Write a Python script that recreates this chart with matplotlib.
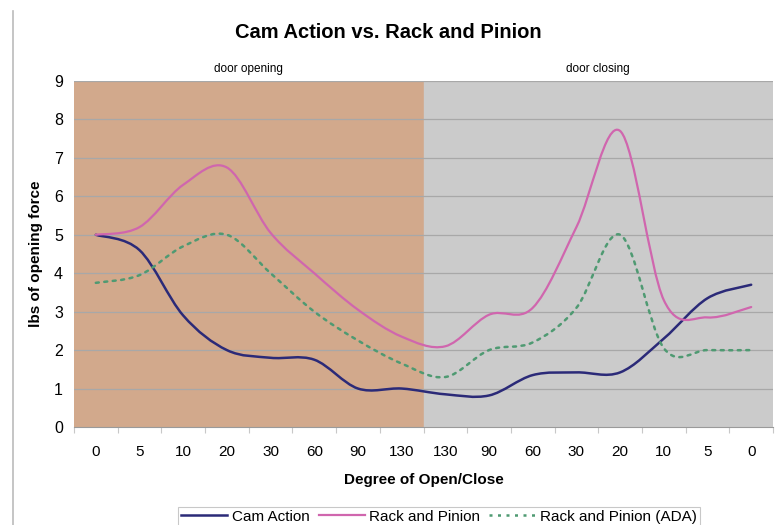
import matplotlib
matplotlib.use("Agg")
import matplotlib.pyplot as plt
from matplotlib.path import Path
from matplotlib.patches import PathPatch
from matplotlib.lines import Line2D

plt.rcParams["font.family"] = ["Liberation Sans", "DejaVu Sans"]

categories = ["0", "5", "10", "20", "30", "60", "90", "130",
              "130", "90", "60", "30", "20", "10", "5", "0"]
cam_action = [5.0, 4.6, 2.9, 2.0, 1.8, 1.75, 1.0, 1.0,
              0.85, 0.82, 1.35, 1.42, 1.42, 2.3, 3.35, 3.7]
rack_pinion = [5.0, 5.2, 6.3, 6.75, 5.05, 4.0, 3.05, 2.35,
               2.1, 2.92, 3.1, 5.2, 7.7, 3.3, 2.85, 3.12]
rack_pinion_ada = [3.75, 3.95, 4.7, 5.0, 4.0, 3.0, 2.25, 1.65,
                   1.3, 2.0, 2.2, 3.1, 5.0, 2.05, 2.0, 2.0]
series_names = ["Cam Action", "Rack and Pinion", "Rack and Pinion (ADA)"]
region_labels = ["door opening", "door closing"]


def smooth_path(xs, ys):
    n = len(xs)
    verts = [(xs[0], ys[0])]
    codes = [Path.MOVETO]
    for i in range(n - 1):
        x0, y0 = (xs[i - 1], ys[i - 1]) if i > 0 else (xs[i], ys[i])
        x1, y1 = xs[i], ys[i]
        x2, y2 = xs[i + 1], ys[i + 1]
        x3, y3 = (xs[i + 2], ys[i + 2]) if i + 2 < n else (x2, y2)
        c1 = (x1 + (x2 - x0) / 6.0, y1 + (y2 - y0) / 6.0)
        c2 = (x2 - (x3 - x1) / 6.0, y2 - (y3 - y1) / 6.0)
        verts += [c1, c2, (x2, y2)]
        codes += [Path.CURVE4] * 3
    return Path(verts, codes)


fig = plt.figure(figsize=(7.77, 5.25), dpi=100)
ax = fig.add_axes([0.0952, 0.1867, 0.8997, 0.659])

n = len(categories)
xs = list(range(n))
half = n / 2 - 0.5

ax.axvspan(-0.5, half, color="#D2A98C", zorder=0)
ax.axvspan(half, n - 0.5, color="#CBCBCB", zorder=0)
for yv in range(1, 10):
    ax.axhline(yv, color="#A8A8A8", lw=0.9, zorder=1)

styles = [
    dict(color="#2B2A78", lw=1.8, ls="-"),
    dict(color="#D066AE", lw=1.6, ls="-"),
    dict(color="#4F9A72", lw=1.8, ls=(0, (1.2, 2.2))),
]
for data, st in zip([cam_action, rack_pinion, rack_pinion_ada], styles):
    p = smooth_path(xs, data)
    patch = PathPatch(p, facecolor="none", edgecolor=st["color"], lw=st["lw"],
                      linestyle=st["ls"], zorder=3, capstyle="round")
    ax.add_patch(patch)

ax.set_xlim(-0.5, n - 0.5)
ax.set_ylim(0, 9)
ax.set_xticks(xs)
ax.set_xticklabels(categories, fontsize=11)
ax.set_xticks([i + 0.5 for i in range(-1, n)], minor=True)
ax.set_yticks(range(10))
ax.set_yticklabels([str(v) for v in range(10)], fontsize=11.5)
ax.tick_params(axis="x", which="major", length=0, pad=13)
ax.tick_params(axis="x", which="minor", length=4, color="#C8C8C8", width=0.8)
ax.tick_params(axis="y", length=0, pad=8)
for s in ["top", "right", "left"]:
    ax.spines[s].set_visible(False)
ax.spines["bottom"].set_color("#9A9A9A")

ax.set_xlabel("Degree of Open/Close", fontsize=11, fontweight="bold", labelpad=10)
ax.set_ylabel("lbs of opening force", fontsize=11, fontweight="bold", labelpad=8)
fig.text(0.5, 0.938, "Cam Action vs. Rack and Pinion", ha="center", va="center",
         fontsize=14.5, fontweight="bold")
ax.text((-0.5 + half) / 2, 9.15, region_labels[0], ha="center", va="bottom", fontsize=8.5)
ax.text((half + n - 0.5) / 2, 9.15, region_labels[1], ha="center", va="bottom", fontsize=8.5)

handles = [Line2D([], [], color=st["color"], lw=st["lw"], ls=st["ls"]) for st in styles]
leg = fig.legend(handles, series_names, loc="center", bbox_to_anchor=(0.565, 0.016),
                 ncol=3, fontsize=11, frameon=True, fancybox=False,
                 handlelength=3.0, handletextpad=0.3, columnspacing=0.6,
                 borderpad=0.2, edgecolor="#BBBBBB")
leg.get_frame().set_linewidth(0.8)

fig.add_artist(Line2D([13 / 777, 13 / 777], [0, 0.98], transform=fig.transFigure,
                      color="#BBBBBB", lw=1.2))

fig.savefig("out.png", dpi=100)
